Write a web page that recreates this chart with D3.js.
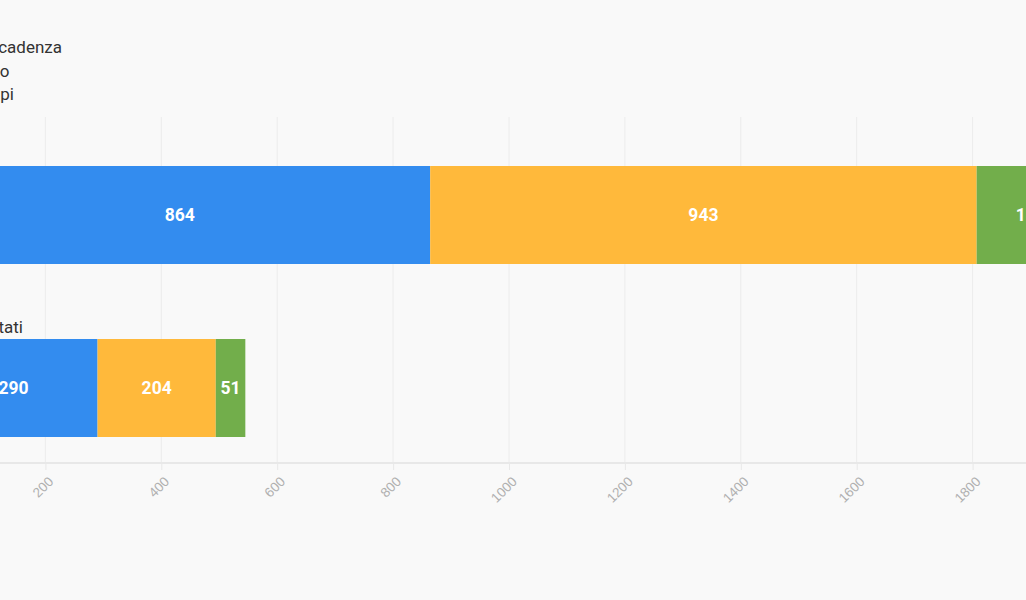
<!DOCTYPE html>
<html><head><meta charset="utf-8">
<script src="https://cdn.jsdelivr.net/npm/d3@7"></script>
<style>
html,body{margin:0;padding:0;background:#f9f9f9;overflow:hidden}
svg{display:block;font-family:Roboto,"Noto Sans",sans-serif}
</style></head><body>
<svg id="c" width="1026" height="600"></svg>
<script>
const categories = ["Totale", "Casi trattati"];
const seriesNames = ["Presto in scadenza", "Fuori tempo", "Entro i tempi"];
const seriesColors = ["#338cef", "#ffb93b", "#72ae4b"];
const inScadenza = [864, 290];
const scaduto = [943, 204];
const tempi = [187, 51];
const tickLabels = [0, 200, 400, 600, 800, 1000, 1200, 1400, 1600, 1800, 2000, 2200];

const svg = d3.select("#c");
const W = 1026, H = 600;
const plotLeft = -70.5, plotTop = 117, plotBottom = 463;
const unit = 0.5795;
const xMax = 2200;
const x = d3.scaleLinear().domain([0, xMax]).range([plotLeft, plotLeft + xMax * unit]);
const band = d3.scaleBand().domain(categories).range([plotTop, plotBottom]);

// grid
svg.append("g").selectAll("line").data(tickLabels).join("line")
  .attr("x1", d => x(d)).attr("x2", d => x(d))
  .attr("y1", plotTop).attr("y2", plotBottom)
  .attr("stroke", "#ececec").attr("stroke-width", 1);

// axis
const axis = d3.axisBottom(x).tickValues(tickLabels).tickSize(7).tickPadding(0).tickFormat(d3.format("d"));
const ag = svg.append("g").attr("transform", `translate(0,${plotBottom})`).call(axis);
ag.select(".domain").attr("stroke", "#e8e8e8").attr("stroke-width", 2).attr("d", `M${-100},0H${W+100}`);
ag.selectAll(".tick line").attr("stroke", "#e8e8e8");
ag.selectAll(".tick text")
  .attr("fill", "#b0b0b0").attr("font-size", 13.5)
  .attr("text-anchor", "end")
  .attr("y", 0).attr("dy", "0.35em")
  .attr("transform", "translate(5,16) rotate(-45)");

// stacked data
const rows = categories.map((c, i) => ({cat: c, v: [inScadenza[i], scaduto[i], tempi[i]]}));
const stackInput = rows.map(r => ({cat: r.cat, s0: r.v[0], s1: r.v[1], s2: r.v[2]}));
const stacked = d3.stack().keys(["s0", "s1", "s2"])(stackInput);

const barOffset = 49, barH = 98;
stacked.forEach((layer, li) => {
  const g = svg.append("g");
  g.selectAll("rect").data(layer).join("rect")
    .attr("x", d => x(d[0])).attr("width", d => x(d[1]) - x(d[0]))
    .attr("y", d => band(d.data.cat) + barOffset).attr("height", barH)
    .attr("fill", seriesColors[li]);
  g.selectAll("text").data(layer).join("text")
    .attr("x", d => (x(d[0]) + x(d[1])) / 2)
    .attr("y", d => band(d.data.cat) + barOffset + barH / 2)
    .attr("dy", "0.35em").attr("text-anchor", "middle")
    .attr("fill", "#fff").attr("font-weight", "bold").attr("font-size", 17.5)
    .text(d => d[1] - d[0]);
});

// category labels, left-aligned; start lies off-canvas as in the reference
const catLabels = svg.append("g").selectAll("text").data(categories).join("text")
  .attr("y", d => band(d) + 43)
  .attr("fill", "#333").attr("font-size", 17)
  .text(d => d);
const lastLen = catLabels.nodes()[categories.length - 1].getComputedTextLength();
catLabels.attr("x", 23 - lastLen);

// legend (left-aligned; starts off-canvas)
const legend = svg.append("g").selectAll("text").data(seriesNames).join("text")
  .attr("y", (d, i) => 53 + i * 23.5)
  .attr("fill", "#333").attr("font-size", 17)
  .text(d => d);
const firstLen = legend.nodes()[0].getComputedTextLength();
legend.attr("x", 62 - firstLen);
</script>
</body></html>
